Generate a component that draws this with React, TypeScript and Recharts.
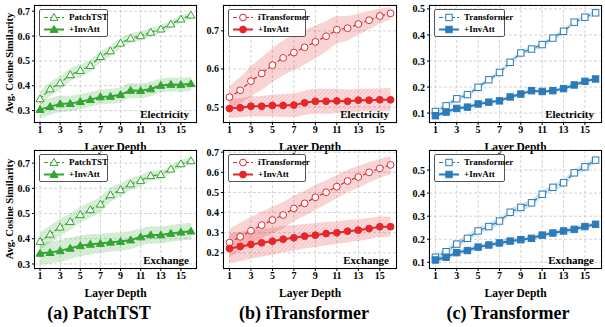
import { Area, CartesianGrid, ComposedChart, Line, XAxis, YAxis } from "recharts";

const layers = [1, 2, 3, 4, 5, 6, 7, 8, 9, 10, 11, 12, 13, 14, 15, 16];
const xTicks = [1, 3, 5, 7, 9, 11, 13, 15];

// PatchTST
const patchElec = [0.347, 0.387, 0.411, 0.444, 0.461, 0.481, 0.517, 0.54, 0.571, 0.591, 0.601, 0.615, 0.628, 0.648, 0.668, 0.684];
const patchElecInv = [0.304, 0.316, 0.327, 0.328, 0.336, 0.344, 0.355, 0.357, 0.364, 0.381, 0.38, 0.387, 0.401, 0.405, 0.404, 0.408];
const patchElecSpread = [0.028, 0.028, 0.027, 0.026, 0.025, 0.024, 0.023, 0.022, 0.02, 0.019, 0.018, 0.017, 0.016, 0.015, 0.014, 0.013];
const patchElecInvSpread = [0.035, 0.034, 0.033, 0.032, 0.031, 0.03, 0.03, 0.03, 0.03, 0.03, 0.029, 0.029, 0.028, 0.028, 0.028, 0.028];
const patchExch = [0.389, 0.418, 0.446, 0.468, 0.495, 0.515, 0.537, 0.574, 0.594, 0.617, 0.631, 0.65, 0.654, 0.676, 0.697, 0.709];
const patchExchInv = [0.342, 0.345, 0.352, 0.362, 0.372, 0.378, 0.381, 0.386, 0.389, 0.395, 0.407, 0.415, 0.415, 0.421, 0.426, 0.43];
const patchExchSpread = [0.035, 0.035, 0.034, 0.033, 0.032, 0.031, 0.03, 0.028, 0.026, 0.024, 0.022, 0.02, 0.018, 0.016, 0.015, 0.014];
const patchExchInvSpread = [0.045, 0.044, 0.043, 0.042, 0.041, 0.04, 0.039, 0.038, 0.037, 0.036, 0.035, 0.034, 0.034, 0.033, 0.033, 0.033];

// iTransformer
const itrElec = [0.526, 0.544, 0.568, 0.588, 0.61, 0.629, 0.643, 0.657, 0.671, 0.686, 0.703, 0.707, 0.718, 0.728, 0.739, 0.746];
const itrElecInv = [0.496, 0.498, 0.502, 0.502, 0.504, 0.504, 0.505, 0.511, 0.515, 0.515, 0.516, 0.515, 0.518, 0.518, 0.519, 0.519];
const itrElecSpread = [0.03, 0.035, 0.04, 0.043, 0.045, 0.046, 0.046, 0.045, 0.043, 0.04, 0.036, 0.032, 0.028, 0.024, 0.02, 0.017];
const itrElecInvSpread = [0.025, 0.025, 0.026, 0.027, 0.028, 0.03, 0.031, 0.032, 0.033, 0.033, 0.032, 0.031, 0.03, 0.03, 0.03, 0.03];
const itrExch = [0.251, 0.28, 0.31, 0.338, 0.363, 0.388, 0.421, 0.446, 0.476, 0.501, 0.529, 0.557, 0.577, 0.6, 0.62, 0.637];
const itrExchInv = [0.222, 0.232, 0.242, 0.25, 0.258, 0.268, 0.275, 0.283, 0.288, 0.296, 0.3, 0.308, 0.313, 0.321, 0.33, 0.33];
const itrExchSpread = [0.07, 0.07, 0.068, 0.067, 0.066, 0.065, 0.064, 0.063, 0.062, 0.06, 0.058, 0.056, 0.054, 0.051, 0.048, 0.046];
const itrExchInvSpread = [0.075, 0.073, 0.071, 0.069, 0.067, 0.065, 0.063, 0.061, 0.06, 0.058, 0.056, 0.055, 0.054, 0.052, 0.051, 0.05];

// Transformer
const trfElec = [0.106, 0.128, 0.155, 0.171, 0.199, 0.228, 0.256, 0.295, 0.331, 0.346, 0.363, 0.388, 0.414, 0.449, 0.468, 0.485];
const trfElecInv = [0.09, 0.104, 0.118, 0.123, 0.135, 0.142, 0.147, 0.162, 0.173, 0.186, 0.183, 0.186, 0.194, 0.208, 0.222, 0.231];
const trfElecSpread = [0.01, 0.01, 0.01, 0.01, 0.01, 0.01, 0.01, 0.01, 0.01, 0.01, 0.01, 0.01, 0.01, 0.01, 0.01, 0.01];
const trfElecInvSpread = [0.007, 0.007, 0.007, 0.007, 0.007, 0.007, 0.007, 0.007, 0.007, 0.007, 0.007, 0.007, 0.007, 0.007, 0.007, 0.007];
const trfExch = [0.122, 0.146, 0.179, 0.204, 0.236, 0.255, 0.279, 0.317, 0.338, 0.358, 0.395, 0.425, 0.445, 0.488, 0.514, 0.543];
const trfExchInv = [0.11, 0.122, 0.142, 0.151, 0.166, 0.175, 0.184, 0.192, 0.198, 0.204, 0.218, 0.227, 0.236, 0.243, 0.255, 0.265];
const trfExchSpread = [0.015, 0.015, 0.015, 0.015, 0.015, 0.015, 0.015, 0.015, 0.015, 0.015, 0.015, 0.015, 0.015, 0.015, 0.015, 0.015];
const trfExchInvSpread = [0.012, 0.012, 0.012, 0.012, 0.012, 0.012, 0.012, 0.012, 0.012, 0.012, 0.012, 0.012, 0.012, 0.012, 0.012, 0.012];

const GREEN = "#33a532";
const RED = "#e3282c";
const BLUE = "#2b7bba";
const serif = "'Liberation Serif', 'Times New Roman', serif";

type Marker = "triangle" | "circle" | "square";

type PanelCfg = {
  id: string;
  name: string;
  dataset: string;
  color: string;
  marker: Marker;
  base: number[];
  inv: number[];
  baseSpread: number[];
  invSpread: number[];
  yDomain: [number, number];
  yTicks: number[];
  rect: [number, number, number, number];
  legendW: number;
  ylabel: boolean;
};

const panels: PanelCfg[] = [
  { id: "g", name: "PatchTST", dataset: "Electricity", color: GREEN, marker: "triangle", base: patchElec, inv: patchElecInv, baseSpread: patchElecSpread, invSpread: patchElecInvSpread, yDomain: [0.25, 0.725], yTicks: [0.3, 0.4, 0.5, 0.6, 0.7], rect: [34, 5, 197, 123], legendW: 69, ylabel: true },
  { id: "r", name: "iTransformer", dataset: "Electricity", color: RED, marker: "circle", base: itrElec, inv: itrElecInv, baseSpread: itrElecSpread, invSpread: itrElecInvSpread, yDomain: [0.458, 0.768], yTicks: [0.5, 0.6, 0.7], rect: [223, 5, 397, 123], legendW: 78, ylabel: false },
  { id: "b", name: "Transformer", dataset: "Electricity", color: BLUE, marker: "square", base: trfElec, inv: trfElecInv, baseSpread: trfElecSpread, invSpread: trfElecInvSpread, yDomain: [0.062, 0.515], yTicks: [0.1, 0.2, 0.3, 0.4, 0.5], rect: [429, 5, 602, 123], legendW: 71, ylabel: false },
  { id: "g", name: "PatchTST", dataset: "Exchange", color: GREEN, marker: "triangle", base: patchExch, inv: patchExchInv, baseSpread: patchExchSpread, invSpread: patchExchInvSpread, yDomain: [0.28, 0.752], yTicks: [0.3, 0.4, 0.5, 0.6, 0.7], rect: [34, 150, 197, 269], legendW: 69, ylabel: true },
  { id: "r", name: "iTransformer", dataset: "Exchange", color: RED, marker: "circle", base: itrExch, inv: itrExchInv, baseSpread: itrExchSpread, invSpread: itrExchInvSpread, yDomain: [0.12, 0.711], yTicks: [0.2, 0.3, 0.4, 0.5, 0.6, 0.7], rect: [223, 150, 397, 269], legendW: 78, ylabel: false },
  { id: "b", name: "Transformer", dataset: "Exchange", color: BLUE, marker: "square", base: trfExch, inv: trfExchInv, baseSpread: trfExchSpread, invSpread: trfExchInvSpread, yDomain: [0.071, 0.587], yTicks: [0.1, 0.2, 0.3, 0.4, 0.5], rect: [429, 150, 602, 269], legendW: 71, ylabel: false },
];

const captions = [
  { text: "(a) PatchTST", x: 99 },
  { text: "(b) iTransformer", x: 304 },
  { text: "(c) Transformer", x: 508 },
];

function markerShape(kind: Marker, cx: number, cy: number, color: string, filled: boolean, key?: string) {
  const fill = filled ? color : "#fff";
  if (kind === "triangle") {
    const r = 4;
    const pts = `${cx},${cy - r} ${cx - r},${cy + r * 0.72} ${cx + r},${cy + r * 0.72}`;
    return <polygon key={key} points={pts} fill={fill} stroke={color} strokeWidth={1} />;
  }
  if (kind === "square") {
    const s = 3.2;
    return <rect key={key} x={cx - s} y={cy - s} width={s * 2} height={s * 2} fill={fill} stroke={color} strokeWidth={1} />;
  }
  return <circle key={key} cx={cx} cy={cy} r={3.4} fill={fill} stroke={color} strokeWidth={1} />;
}

const tickStyle = { fontSize: 10, fontWeight: 700, fill: "#000", fontFamily: serif };

function Panel({ cfg }: { cfg: PanelCfg }) {
  const [x0, y0, x1, y1] = cfg.rect;
  const AXW = 30;
  const AXH = 18;
  const PAD = 4;
  const rows = layers.map((x, i) => ({
    x,
    base: cfg.base[i],
    inv: cfg.inv[i],
    baseBand: [cfg.base[i] - cfg.baseSpread[i], cfg.base[i] + cfg.baseSpread[i]],
    invBand: [cfg.inv[i] - cfg.invSpread[i], cfg.inv[i] + cfg.invSpread[i]],
  }));
  const text = { position: "absolute" as const, fontFamily: serif, fontWeight: 700, color: "#000", whiteSpace: "nowrap" as const };

  return (
    <>
      <div style={{ position: "absolute", left: x0 - AXW, top: y0 - PAD }}>
        <ComposedChart width={x1 - x0 + AXW + PAD} height={y1 - y0 + PAD + AXH} data={rows} margin={{ top: PAD, right: PAD, left: 0, bottom: 0 }}>
          <CartesianGrid stroke="#c8c8c8" strokeDasharray="3 2" strokeWidth={0.8} />
          <XAxis dataKey="x" type="number" domain={[0.4, 16.6]} ticks={xTicks} height={AXH} axisLine={false} tickSize={2} tickMargin={1} tickLine={{ stroke: "#000" }} tick={tickStyle} interval={0} />
          <YAxis type="number" domain={cfg.yDomain} ticks={cfg.yTicks} width={AXW} axisLine={false} tickSize={2} tickMargin={2} tickLine={{ stroke: "#000" }} tick={tickStyle} tickFormatter={(v: number) => v.toFixed(1)} allowDataOverflow interval={0} />
          <Area dataKey="baseBand" type="monotone" stroke="none" fill={cfg.color} fillOpacity={0.2} isAnimationActive={false} activeDot={false} />
          <Area dataKey="invBand" type="monotone" stroke="none" fill={`url(#hatch-${cfg.id})`} fillOpacity={1} isAnimationActive={false} activeDot={false} />
          <Line dataKey="base" type="linear" stroke={cfg.color} strokeWidth={1.2} strokeDasharray="4 2" isAnimationActive={false} activeDot={false}
            dot={(p: any) => markerShape(cfg.marker, p.cx, p.cy, cfg.color, false, `b${p.index}`)} />
          <Line dataKey="inv" type="linear" stroke={cfg.color} strokeWidth={2} isAnimationActive={false} activeDot={false}
            dot={(p: any) => markerShape(cfg.marker, p.cx, p.cy, cfg.color, true, `i${p.index}`)} />
        </ComposedChart>
      </div>
      <div style={{ position: "absolute", left: x0, top: y0, width: x1 - x0, height: y1 - y0, border: "1px solid #000", boxSizing: "border-box", pointerEvents: "none" }} />
      <div style={{ position: "absolute", left: x0 + 5, top: y0 + 4, width: cfg.legendW, height: 28, border: "1px solid #555", borderRadius: 2, background: "rgba(255,255,255,0.9)", boxSizing: "border-box" }}>
        {[false, true].map((filled, k) => (
          <div key={k} style={{ position: "absolute", left: 3, top: k === 0 ? 2 : 14, height: 11, display: "flex", alignItems: "center" }}>
            <svg width={22} height={11}>
              <line x1={1} y1={5.5} x2={21} y2={5.5} stroke={cfg.color} strokeWidth={filled ? 2 : 1.2} strokeDasharray={filled ? undefined : "4 2"} />
              {markerShape(cfg.marker, 11, 5.5, cfg.color, filled)}
            </svg>
            <span style={{ fontFamily: serif, fontWeight: 700, fontSize: 9, marginLeft: 4, lineHeight: "11px" }}>{filled ? "+InvAtt" : cfg.name}</span>
          </div>
        ))}
      </div>
      <div style={{ ...text, fontSize: 11, right: 605 - x1 + 8, top: y1 - 16, lineHeight: "14px" }}>{cfg.dataset}</div>
      <div style={{ ...text, fontSize: 11.5, left: (x0 + x1) / 2, top: y1 + 17, transform: "translateX(-50%)", lineHeight: "14px" }}>Layer Depth</div>
      {cfg.ylabel && (
        <div style={{ ...text, fontSize: 10.5, left: 10, top: (y0 + y1) / 2 - 1, transform: "translate(-50%, -50%) rotate(-90deg)", lineHeight: "12px" }}>
          Avg. Cosine Similarity
        </div>
      )}
    </>
  );
}

export default function App() {
  return (
    <div style={{ position: "absolute", left: 0, top: 0, width: 605, height: 327, background: "#fff", overflow: "hidden" }}>
      <svg width={0} height={0} style={{ position: "absolute" }}>
        <defs>
          {[["g", GREEN], ["r", RED], ["b", BLUE]].map(([id, c]) => (
            <pattern key={id} id={`hatch-${id}`} patternUnits="userSpaceOnUse" width={4} height={4}>
              <rect width={4} height={4} fill={c} fillOpacity={0.18} />
              <path d="M0,4 L4,0 M-1,1 L1,-1 M3,5 L5,3" stroke={c} strokeOpacity={0.22} strokeWidth={0.6} />
            </pattern>
          ))}
        </defs>
      </svg>
      {panels.map((p, i) => (
        <Panel key={i} cfg={p} />
      ))}
      {captions.map((c) => (
        <div key={c.text} style={{ position: "absolute", left: c.x, top: 302, transform: "translateX(-50%)", fontFamily: serif, fontWeight: 700, fontSize: 18, lineHeight: "22px", whiteSpace: "nowrap" }}>
          {c.text}
        </div>
      ))}
    </div>
  );
}
